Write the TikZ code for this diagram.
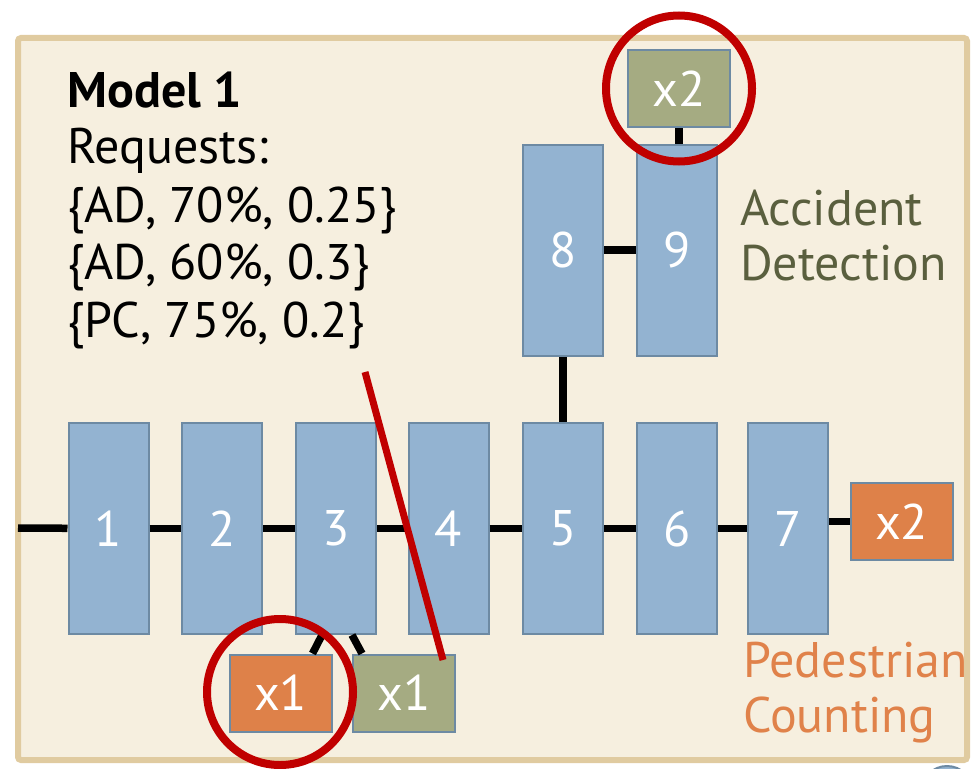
\documentclass[tikz,border=0pt]{standalone}
\usepackage{fontspec}
\setmainfont{PT Sans}
\usepackage{tikz}

\definecolor{panelfill}{HTML}{F6EFDF}
\definecolor{panelline}{HTML}{E0CBA0}
\definecolor{layerfill}{HTML}{93B3D1}
\definecolor{layerline}{HTML}{6D8AA3}
\definecolor{pcfill}{HTML}{DE8149}
\definecolor{adfill}{HTML}{A5AB82}
\definecolor{adtext}{HTML}{5A5F3E}
\definecolor{pctext}{HTML}{E0824A}
\definecolor{markred}{HTML}{C00000}

\newcommand{\diagfont}{\fontsize{50}{59}\selectfont}

\tikzset{
	layer/.style={shape=rectangle,draw=layerline,fill=layerfill,line width=2pt,minimum width=80pt,minimum height=211pt,inner sep=0pt,text=white,font=\diagfont},
	head/.style={shape=rectangle,draw=layerline,line width=2pt,minimum width=102pt,minimum height=77pt,inner sep=0pt,text=white,font=\diagfont},
	link/.style={line width=7.5pt},
	redring/.style={draw=markred,line width=8pt},
	label/.style={anchor=base west,inner sep=0pt,font=\diagfont}
}

\begin{document}
\begin{tikzpicture}[x=1pt,y=-1pt]
	\useasboundingbox (0,0) rectangle (979,768);
	\draw[panelline,fill=panelfill,line width=6pt,rounded corners=3pt] (18,38) rectangle (967,760);
	\draw[layerline,fill=layerfill,line width=2pt] (947,792) circle (26);

	\node[label] (t0) at (67,107) {\bfseries Model 1};
	\node[label] (t1) at (67,163) {Requests:};
	\node[label] (t2) at (67,222) {\{AD, 70\%, 0.25\}};
	\node[label] (t3) at (67,279) {\{AD, 60\%, 0.3\}};
	\node[label] (t4) at (67,337) {\{PC, 75\%, 0.2\}};

	\node[label,text=adtext] (ad1) at (740,225) {Accident};
	\node[label,text=adtext] (ad2) at (740,280) {Detection};
	\node[label,text=pctext] (pc1) at (743,677) {Pedestrian};
	\node[label,text=pctext] (pc2) at (743,732) {Counting};

	\coordinate (in) at (18,528);
	\node[layer] (1) at (108.5,528.5) {1};
	\node[layer] (2) at (222,528.5) {2};
	\node[layer] (3) at (336,528.5) {3};
	\node[layer] (4) at (448.5,528.5) {4};
	\node[layer] (5) at (563,528.5) {5};
	\node[layer] (6) at (677,528.5) {6};
	\node[layer] (7) at (788,528.5) {7};
	\node[layer] (8) at (563,250) {8};
	\node[layer] (9) at (677,250) {9};

	\node[head,fill=adfill] (x9) at (679,88.5) {x2};
	\node[head,fill=pcfill] (x7) at (901.5,521.5) {x2};
	\node[head,fill=pcfill] (x3a) at (280.5,693) {x1};
	\node[head,fill=adfill] (x3b) at (404,693) {x1};

	\path [link] (in) edge (1);
	\path [link] (1) edge (2);
	\path [link] (2) edge (3);
	\path [link] (3) edge (4);
	\path [link] (4) edge (5);
	\path [link] (5) edge (6);
	\path [link] (6) edge (7);
	\path [link] (x7.west) edge (x7.west -| 7.east);
	\path [link] (5) edge (8);
	\path [link] (8) edge (9);
	\path [link] (x9.south) edge (x9.south |- 9.north);
	\path [link] ([xshift=-14pt]3.south) edge ([xshift=32pt]x3a.north);
	\path [link] ([xshift=16pt]3.south) edge ([xshift=-42pt]x3b.north);

	\coordinate (s0) at (365,372);
	\coordinate (s1) at (443,660);
	\draw[markred,line width=7pt] (s0) -- (s1);
	\draw[redring] (x9) circle (73);
	\draw[redring] (280,692) circle (73);
\end{tikzpicture}
\end{document}
